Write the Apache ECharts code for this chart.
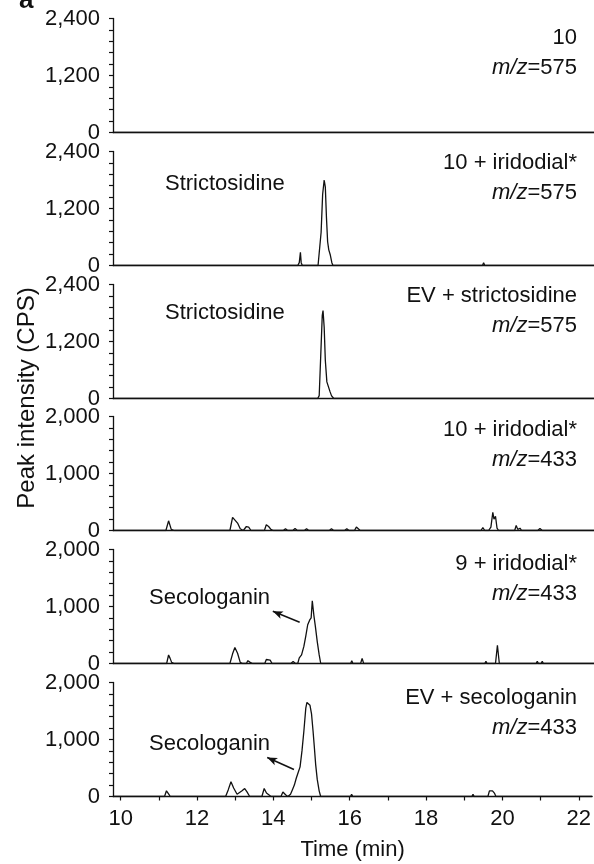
<!DOCTYPE html>
<html>
<head>
<meta charset="utf-8">
<title>Chromatograms</title>
<script src="https://cdn.jsdelivr.net/npm/echarts@6/dist/echarts.min.js"></script>
</head>
<body style="margin:0">
<div id="main" style="width:594px;height:864px;"></div>
<script type="text/javascript">
// time axis (min)
var timeTicks = [10, 11, 12, 13, 14, 15, 16, 17, 18, 19, 20, 21, 22];
var timeLabels = [10, 12, 14, 16, 18, 20, 22];
var yMax = [2400, 2400, 2400, 2000, 2000, 2000];
var yStep = [1200, 1200, 1200, 1000, 1000, 1000];

var titles1 = ['10', '10 + iridodial*', 'EV + strictosidine', '10 + iridodial*', '9 + iridodial*', 'EV + secologanin'];
var mzValues = ['575', '575', '575', '433', '433', '433'];

// traces [time, cps]
var trace1 = [[9.8, 0], [14, 0], [18, 0], [22.35, 0]];
var trace2 = [[9.8, 0], [14.62, 0], [14.66, 60], [14.69, 280], [14.71, 60], [14.74, 0], [15.15, 0], [15.19, 30],
    [15.23, 700], [15.27, 1500], [15.31, 1800], [15.34, 1650], [15.37, 1000], [15.4, 500], [15.43, 330],
    [15.47, 220], [15.51, 60], [15.54, 0], [19.44, 0], [19.47, 60], [19.5, 0], [22.35, 0]];
var trace3 = [[9.8, 0], [15.14, 0], [15.18, 60], [15.22, 900], [15.26, 1750], [15.28, 1850], [15.31, 1500],
    [15.34, 800], [15.38, 350], [15.42, 250], [15.46, 150], [15.5, 60], [15.56, 0], [22.35, 0]];
var trace4 = [[9.8, 0], [10.97, 0], [11.02, 30], [11.07, 0], [11.18, 0], [11.25, 170], [11.32, 20], [11.4, 0],
    [12.85, 0], [12.92, 230], [12.96, 250], [13.05, 130], [13.12, 30], [13.2, 0], [13.28, 70], [13.34, 60],
    [13.4, 0], [13.75, 0], [13.8, 100], [13.86, 70], [13.92, 20], [13.98, 0], [14.24, 0], [14.3, 30], [14.36, 0],
    [14.49, 0], [14.55, 35], [14.61, 0], [14.79, 0], [14.85, 30], [14.91, 0], [15.44, 0], [15.5, 30], [15.56, 0],
    [15.84, 0], [15.9, 30], [15.96, 0], [16.1, 0], [16.15, 60], [16.2, 50], [16.25, 0], [19.4, 0], [19.45, 50],
    [19.5, 0], [19.6, 0], [19.66, 60], [19.71, 320], [19.74, 200], [19.78, 250], [19.82, 40], [19.86, 0],
    [20.28, 0], [20.32, 90], [20.36, 20], [20.42, 40], [20.46, 0], [20.88, 0], [20.94, 35], [21.0, 0], [22.35, 0]];
var trace5 = [[9.8, 0], [10.97, 0], [11.02, 30], [11.07, 0], [11.2, 0], [11.25, 150], [11.29, 90], [11.33, 20],
    [11.4, 0], [12.85, 0], [12.92, 170], [12.98, 280], [13.05, 180], [13.12, 20], [13.18, 0], [13.28, 0],
    [13.32, 50], [13.38, 20], [13.44, 0], [13.76, 0], [13.8, 70], [13.85, 40], [13.9, 60], [13.95, 0],
    [14.44, 0], [14.5, 35], [14.56, 0], [14.62, 0], [14.66, 100], [14.72, 150], [14.78, 300], [14.83, 480],
    [14.88, 680], [14.93, 760], [14.97, 800], [15.0, 1100], [15.04, 850], [15.08, 650], [15.13, 380],
    [15.18, 150], [15.22, 0], [16.0, 0], [16.03, 50], [16.06, 0], [16.26, 0], [16.3, 90], [16.34, 0],
    [19.5, 0], [19.53, 40], [19.56, 0], [19.78, 0], [19.83, 320], [19.88, 0], [20.84, 0], [20.87, 40],
    [20.9, 0], [20.97, 0], [21.0, 40], [21.03, 0], [22.35, 0]];
var trace6 = [[9.8, 0], [11.15, 0], [11.2, 100], [11.26, 40], [11.3, 0], [12.75, 0], [12.82, 120], [12.89, 260],
    [12.96, 150], [13.05, 40], [13.1, 60], [13.18, 100], [13.25, 140], [13.31, 80], [13.38, 0], [13.7, 0],
    [13.76, 140], [13.82, 60], [13.88, 30], [13.94, 0], [14.2, 0], [14.25, 80], [14.32, 30], [14.38, 0],
    [14.45, 40], [14.5, 120], [14.55, 200], [14.6, 320], [14.65, 420], [14.7, 520], [14.75, 800], [14.8, 1150],
    [14.85, 1550], [14.88, 1650], [14.92, 1680], [14.96, 1600], [15.0, 1450], [15.04, 1150], [15.07, 900],
    [15.11, 550], [15.15, 300], [15.2, 100], [15.24, 0], [16.02, 0], [16.05, 40], [16.08, 0], [19.2, 0],
    [19.23, 40], [19.26, 0], [19.62, 0], [19.66, 100], [19.7, 130], [19.74, 100], [19.79, 60], [19.83, 0], [22.35, 0]];
var traces = [trace1, trace2, trace3, trace4, trace5, trace6];

// secologanin pointers [start, end] in data units
var arrow5 = [[13.97, 916], [14.67, 723]];
var arrow6 = [[13.84, 684], [14.54, 474]];

var ink = '#111';
var font = 'Liberation Sans, Arial, Helvetica, sans-serif';
var myChart = echarts.init(document.getElementById('main'));

var grids = [], xAxes = [], yAxes = [], series = [], graphics = [];
// half-pixel tops so the trace baseline sits on the axis line
var panelTops = [18.5, 151.5, 284.5, 416.5, 549.5, 682.5], panelH = 114;
var titleY = [40, 165, 298, 432, 566, 700];

for (var i = 0; i < 6; i++) {
    var last = i === 5;
    grids.push({ left: 113, right: 0, top: panelTops[i], height: panelH });
    xAxes.push({
        type: 'value', gridIndex: i, min: 9.8, max: 22.35,
        axisLine: { show: true, lineStyle: { color: ink, width: 1.3 } },
        axisTick: { show: last, length: 4, customValues: timeTicks, lineStyle: { color: ink, width: 1.2 } },
        axisLabel: { show: last, customValues: timeLabels, color: ink, fontSize: 22, fontFamily: font, margin: 11 },
        splitLine: { show: false },
        name: last ? 'Time (min)' : '',
        nameLocation: 'middle', nameGap: 42,
        nameTextStyle: { color: ink, fontSize: 22, fontFamily: font }
    });
    yAxes.push({
        type: 'value', gridIndex: i, min: 0, max: yMax[i], interval: yStep[i],
        axisLine: { show: true, lineStyle: { color: ink, width: 1.3 } },
        axisTick: { show: true, length: 4, lineStyle: { color: ink, width: 1.2 } },
        minorTick: { show: true, splitNumber: 5, length: 4, lineStyle: { color: ink, width: 1.2 } },
        axisLabel: {
            color: ink, fontSize: 22, fontFamily: font, margin: 13,
            formatter: function (v) { return v.toLocaleString('en-US'); }
        },
        splitLine: { show: false }
    });
    var s = {
        type: 'line', xAxisIndex: i, yAxisIndex: i, data: traces[i],
        showSymbol: false, symbol: 'none',
        lineStyle: { color: ink, width: 1.3 },
        animation: false, silent: true
    };
    var arr = i === 4 ? arrow5 : (i === 5 ? arrow6 : null);
    if (arr) {
        s.markLine = {
            silent: true, symbol: ['arrow', 'none'], symbolSize: [6, 10],
            label: { show: false },
            lineStyle: { color: ink, width: 1.5, type: 'solid' },
            data: [[{ coord: arr[0] }, { coord: arr[1] }]]
        };
    }
    series.push(s);

    graphics.push({
        type: 'text', right: 17, top: titleY[i] - 13,
        style: { text: titles1[i], fill: ink, font: '22px ' + font }
    });
    graphics.push({
        type: 'text', right: 17, top: titleY[i] + 17,
        style: {
            text: '{it|m/z}=' + mzValues[i],
            fill: ink, font: '22px ' + font,
            rich: { it: { fontStyle: 'italic', fontSize: 22, fontFamily: font, fill: ink } }
        }
    });
}

graphics.push({ type: 'text', left: 165, top: 173, style: { text: 'Strictosidine', fill: ink, font: '22px ' + font } });
graphics.push({ type: 'text', left: 165, top: 302, style: { text: 'Strictosidine', fill: ink, font: '22px ' + font } });
graphics.push({ type: 'text', left: 149, top: 587, style: { text: 'Secologanin', fill: ink, font: '22px ' + font } });
graphics.push({ type: 'text', left: 149, top: 733, style: { text: 'Secologanin', fill: ink, font: '22px ' + font } });
graphics.push({
    type: 'text', x: 27, y: 398, rotation: Math.PI / 2,
    style: { text: 'Peak intensity (CPS)', fill: ink, font: '24px ' + font, align: 'center', verticalAlign: 'middle' }
});
graphics.push({ type: 'text', x: 19, y: 14, style: { text: 'a', fill: ink, font: 'bold 26px ' + font, verticalAlign: 'bottom' } });

var option = {
    backgroundColor: '#fff',
    animation: false,
    grid: grids,
    xAxis: xAxes,
    yAxis: yAxes,
    series: series,
    graphic: graphics
};
myChart.setOption(option);
</script>
</body>
</html>
